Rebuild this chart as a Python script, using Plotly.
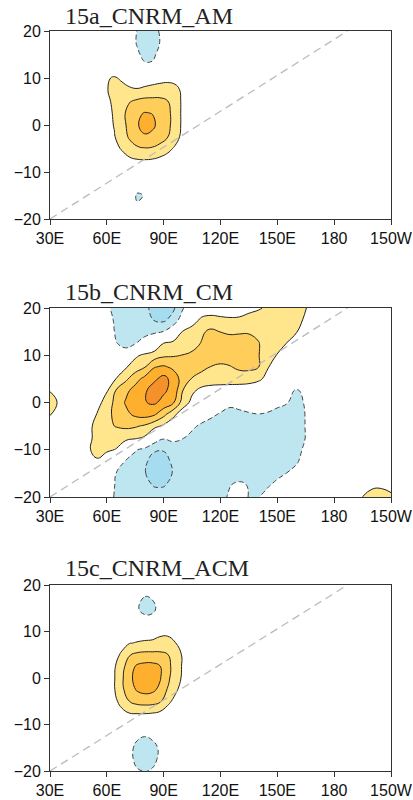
import plotly.graph_objects as go

# ---------------- data ----------------
lat = [-20, -17.5, -15, -12.5, -10, -7.5, -5, -2.5, 0, 2.5, 5, 7.5, 10, 12.5, 15, 17.5, 20]

lon_ac = [30, 50, 56, 60, 64, 68, 72, 76, 80, 84, 88, 92, 96, 100, 104, 110, 210]

lon_b = [30, 35, 40, 45, 50, 55, 60, 65, 70, 75, 80, 85, 90, 95, 100, 105, 110, 115, 120,
         125, 130, 135, 140, 145, 150, 155, 160, 165, 170, 175, 180, 185, 190, 195, 200, 205, 210]

x_ticks = [30, 60, 90, 120, 150, 180, 210]
x_tick_text = ["30E", "60E", "90E", "120E", "150E", "180", "150W"]
y_ticks = [-20, -10, 0, 10, 20]

ref_lon = [30, 187]
ref_val = [-20, 20]

titles = ["15a_CNRM_AM", "15b_CNRM_CM", "15c_CNRM_ACM"]

# rows: lat -20 ... 20 ; columns: lon_ac
z_a = [
    [0, 0, 0, 0, 0, 0, 0, 0, 0, 0, 0, 0, 0, 0, 0, 0, 0],
    [0, 0, 0, 0, 0, 0, -0.2, -0.85, -0.6, 0, 0, 0, 0, 0, 0, 0, 0],
    [0, 0, 0, 0, 0, 0, -0.3, -1.15, -0.95, -0.1, 0, 0, 0, 0, 0, 0, 0],
    [0, 0, 0, 0, 0, 0, 0, -0.4, -0.3, 0, 0, 0, 0, 0, 0, 0, 0],
    [0, 0, 0, 0, 0, 0, 0.2, 0.25, 0.25, 0.2, 0, 0, 0, 0, 0, 0, 0],
    [0, 0, 0, 0.1, 0.3, 0.55, 0.8, 0.92, 0.95, 0.9, 0.75, 0.55, 0.3, 0.1, 0, 0, 0],
    [0, 0, 0.1, 0.35, 0.7, 1.1, 1.55, 1.85, 1.95, 1.9, 1.65, 1.3, 0.85, 0.4, 0.1, 0, 0],
    [0, 0, 0.2, 0.55, 0.95, 1.5, 2.15, 2.6, 2.8, 2.75, 2.5, 2.05, 1.45, 0.7, 0.25, 0, 0],
    [0, 0, 0.3, 0.7, 1.05, 1.6, 2.35, 2.85, 3.6, 3.2, 2.7, 2.25, 1.6, 0.8, 0.3, 0.1, 0],
    [0, 0, 0.3, 0.75, 1.1, 1.7, 2.4, 2.85, 3.05, 2.98, 2.8, 2.25, 1.6, 0.8, 0.3, 0.1, 0],
    [0, 0, 0.4, 0.85, 1.15, 1.6, 1.95, 2.2, 2.35, 2.35, 2.3, 2.05, 1.6, 0.8, 0.4, 0.1, 0],
    [0, 0, 0.4, 0.95, 1.3, 1.3, 1.1, 1.05, 1.15, 1.25, 1.35, 1.4, 1.3, 0.8, 0.4, 0.1, 0],
    [0, 0, 0.3, 0.9, 1.1, 0.85, 0.7, 0.6, 0.6, 0.65, 0.7, 0.75, 0.65, 0.3, 0.1, 0, 0],
    [0, 0, 0, 0.3, 0.2, 0, -0.1, -0.3, -0.8, -0.8, -0.3, 0, 0, 0, 0, 0, 0],
    [0, 0, 0, 0, 0, 0, -0.2, -0.8, -1.3, -1.25, -0.7, -0.1, 0, 0, 0, 0, 0],
    [0, 0, 0, 0, 0, 0, -0.4, -1.1, -1.6, -1.6, -0.98, -0.3, 0, 0, 0, 0, 0],
    [0, 0, 0, 0, 0, 0, -0.3, -1.05, -1.5, -1.5, -0.9, -0.2, 0, 0, 0, 0, 0],
]

z_c = [
    [0, 0, 0, 0, 0, 0, -0.4, -0.9, -1.05, -0.9, -0.4, 0, 0, 0, 0, 0, 0],
    [0, 0, 0, 0, 0, -0.2, -0.7, -1.3, -1.55, -1.3, -0.8, -0.2, 0, 0, 0, 0, 0],
    [0, 0, 0, 0, 0, -0.2, -0.7, -1.3, -1.6, -1.35, -0.85, -0.2, 0, 0, 0, 0, 0],
    [0, 0, 0, 0, 0, 0, -0.3, -0.8, -0.97, -0.8, -0.3, 0, 0, 0, 0, 0, 0],
    [0, 0, 0, 0, 0, 0.1, 0.25, 0.3, 0.3, 0.25, 0.15, 0, 0, 0, 0, 0, 0],
    [0, 0, 0, 0.2, 0.45, 0.8, 1.02, 1.05, 1.05, 1.02, 0.85, 0.5, 0.25, 0.1, 0, 0, 0],
    [0, 0, 0.1, 0.4, 0.8, 1.3, 2.02, 2.35, 2.45, 2.4, 2.15, 1.3, 0.7, 0.3, 0.1, 0, 0],
    [0, 0, 0.2, 0.55, 0.95, 1.8, 2.6, 3.1, 3.3, 3.2, 2.8, 1.95, 1.25, 0.55, 0.2, 0, 0],
    [0, 0, 0.25, 0.6, 0.95, 1.85, 2.75, 3.4, 3.7, 3.6, 3.1, 2.2, 1.55, 0.85, 0.3, 0.1, 0],
    [0, 0, 0.25, 0.55, 0.9, 1.65, 2.6, 3.15, 3.3, 3.3, 3.05, 2.3, 1.6, 0.9, 0.35, 0.1, 0],
    [0, 0, 0.2, 0.5, 0.8, 1.1, 1.95, 2.2, 2.3, 2.3, 2.25, 2.05, 1.55, 0.9, 0.35, 0.1, 0],
    [0, 0, 0, 0.3, 0.55, 0.8, 0.97, 1.05, 1.1, 1.12, 1.25, 1.3, 1.05, 0.55, 0.2, 0, 0],
    [0, 0, 0, 0, 0.3, 0.45, 0.55, 0.6, 0.65, 0.7, 0.8, 0.8, 0.6, 0.3, 0.1, 0, 0],
    [0, 0, 0, 0, 0, 0, 0, -0.4, -0.7, -0.7, -0.3, 0, 0, 0, 0, 0, 0],
    [0, 0, 0, 0, 0, 0, -0.3, -0.9, -1.35, -1.25, -0.7, -0.2, 0, 0, 0, 0, 0],
    [0, 0, 0, 0, 0, 0, 0, -0.5, -1.02, -0.9, -0.4, 0, 0, 0, 0, 0, 0],
    [0, 0, 0, 0, 0, 0, 0, -0.2, -0.4, -0.4, -0.2, 0, 0, 0, 0, 0, 0],
]

# rows: lat -20 ... 20 ; columns: lon_b
z_b = [
    [0, 0, 0, 0, 0,  0, -0.6, -1.15, -1.35, -1.5,  -1.6, -1.7, -1.7, -1.6, -1.55,
     -1.45, -1.35, -1.25, -1.2, -0.9,  -0.5, -1.05, -1.05, -0.7, -0.4,
     -0.2, 0, 0, 0, 0,  0, 0, 0.4, 1.02, 1.2,  1.25, 1.15],
    [0, 0, 0, 0, 0,  0, -0.5, -1.1, -1.4, -1.55,  -1.8, -2.05, -2.05, -1.8, -1.6,
     -1.55, -1.5, -1.4, -1.2, -1.02,  -0.85, -1.05, -1.2, -1.08, -0.8,
     -0.5, -0.25, -0.1, 0, 0,  0, 0, 0.1, 0.5, 0.9,  0.9, 0.75],
    [0, 0, 0, 0, 0,  0.1, -0.4, -1.02, -1.4, -1.6,  -1.95, -2.4, -2.4, -1.95, -1.7,
     -1.65, -1.6, -1.55, -1.45, -1.35,  -1.35, -1.4, -1.45, -1.35, -1.2,
     -0.98, -0.6, -0.25, 0, 0,  0, 0, 0, 0, 0,  0, 0],
    [0, 0, 0, 0.2, 0.75,  0.9, 0.4, -0.4, -1.1, -1.45,  -1.85, -2.35, -2.3, -1.85, -1.6,
     -1.6, -1.6, -1.6, -1.6, -1.6,  -1.6, -1.6, -1.6, -1.6, -1.55,
     -1.45, -1.15, -0.5, -0.2, 0,  0, 0, 0, 0, 0,  0, 0],
    [0, 0, 0, 0.3, 0.9,  1.25, 1.15, 0.95, 0.1, -0.9,  -1.3, -1.9, -1.95, -1.55, -1.5,
     -1.55, -1.6, -1.6, -1.6, -1.6,  -1.6, -1.6, -1.6, -1.6, -1.6,
     -1.5, -1.3, -0.8, -0.3, -0.1,  0, 0, 0, 0, 0,  0, 0],
    [0, 0, 0, 0.2, 0.75,  1.3, 1.45, 1.4, 1.25, 1.15,  0.85, -0.3, -0.9, -0.75, -0.95,
     -1.3, -1.5, -1.55, -1.55, -1.55,  -1.55, -1.55, -1.55, -1.6, -1.6,
     -1.55, -1.45, -0.97, -0.4, -0.1,  0, 0, 0, 0, 0,  0, 0],
    [0.6, 0.3, 0.1, 0.3, 0.7,  1.35, 1.8, 2.05, 2.2, 2.1,  1.85, 1.3, 0.8, 0.3, -0.3,
     -0.8, -1.2, -1.4, -1.5, -1.5,  -1.45, -1.4, -1.45, -1.5, -1.55,
     -1.6, -1.55, -0.95, -0.4, -0.1,  0, 0, 0, 0, 0,  0, 0],
    [1.05, 0.6, 0.2, 0.3, 0.65,  1.05, 1.7, 2.3, 2.75, 3.2,  3.4, 3.15, 2.3, 1.3, 0.4,
     0, -0.4, -0.8, -1.1, -1.4,  -1.25, -1.1, -1.02, -1.1, -1.3,
     -1.4, -1.5, -0.95, -0.4, -0.1,  0, 0, 0, 0, 0,  0, 0],
    [1.3, 0.9, 0.3, 0.1, 0.2,  0.6, 1.5, 2.3, 3.1, 3.6,  3.95, 4.15, 3.7, 3.15, 1.6,
     0.7, 0.35, -0.1, -0.45, -0.7,  -0.6, -0.5, -0.45, -0.55, -0.75,
     -0.95, -1.3, -0.9, -0.4, -0.1,  0, 0, 0, 0, 0,  0, 0],
    [0.97, 0.5, 0.15, 0, 0,  -0.1, 0.9, 2.1, 2.75, 3.4,  3.85, 4.5, 4.15, 3.7, 2.02,
     1.2, 0.7, 0.5, 0.4, 0.35,  0.3, 0.25, 0.2, 0, -0.3,
     -0.7, -1.1, -0.8, -0.3, -0.1,  0, 0, 0, 0, 0,  0, 0],
    [0.4, 0.1, 0, 0, 0,  -0.05, 0.2, 1.05, 1.8, 2.6,  3.3, 3.8, 4.35, 3.6, 2.6,
     1.95, 1.7, 1.6, 1.6, 1.6,  1.6, 1.5, 1.2, 0.7, 0.35,
     0.15, 0.05, 0, 0, 0,  0, 0, 0, 0, 0,  0, 0],
    [0, 0, 0, 0, 0,  0, -0.15, -0.3, 0.9, 1.5,  1.95, 2.95, 3.15, 2.8, 2.5,
     2.35, 2.2, 1.97, 1.85, 1.95,  2.15, 2.2, 2.03, 1.05, 0.6,
     0.3, 0.1, 0, 0, 0,  0, 0, 0, 0, 0,  0, 0],
    [0, 0, 0, 0, 0,  -0.1, -0.3, -0.55, -0.75, 0.8,  1.2, 1.45, 1.8, 1.9, 2.02,
     2.15, 2.3, 2.45, 2.4, 2.4,  2.45, 2.45, 2.05, 1.45, 0.95,
     0.6, 0.3, 0.1, 0, 0,  0, 0, 0, 0, 0,  0, 0],
    [0, 0, 0, 0, 0,  -0.1, -0.4, -0.98, -1.15, -1.02,  -0.6, 0.1, 1.03, 1.3, 1.5,
     1.7, 2.05, 2.4, 2.35, 2.3,  2.4, 2.4, 2.05, 1.6, 1.3,
     0.98, 0.6, 0.3, 0.1, 0,  0, 0, 0, 0, 0,  0, 0],
    [0, 0, 0, 0, 0,  -0.2, -0.6, -1.1, -1.3, -1.35,  -1.3, -1.2, -0.97, -0.3, 1.05,
     1.45, 1.85, 2.2, 1.98, 1.9,  1.9, 1.9, 1.8, 1.65, 1.5,
     1.35, 1.05, 0.6, 0.25, 0.1,  0, 0, 0, 0, 0,  0, 0],
    [0, 0, 0, 0, 0,  -0.2, -0.7, -1.15, -1.3, -1.45,  -1.7, -2.05, -2.2, -1.6, -0.5,
     0.5, 1.2, 1.3, 1.15, 1.1,  1.1, 1.25, 1.45, 1.6, 1.65,
     1.55, 1.3, 0.85, 0.4, 0.15,  0, 0, 0, 0, 0,  0, 0],
    [0, 0, 0, 0, 0,  -0.3, -0.85, -1.3, -1.5, -1.7,  -1.85, -2.2, -2.5, -2.2, -1.1,
     -0.2, 0.3, 0.5, 0.6, 0.6,  0.7, 0.8, 0.9, 1.15, 1.3,
     1.35, 1.25, 1.03, 0.6, 0.3,  0.1, 0, 0, 0, 0,  0, 0],
]

for zz, xx in ((z_a, lon_ac), (z_b, lon_b), (z_c, lon_ac)):
    assert len(zz) == len(lat)
    for row in zz:
        assert len(row) == len(xx), (len(row), len(xx))

# ---------------- style ----------------
# Plotly shades the region that is OUTSIDE the constraint, so the
# operation is the opposite of the region we want filled.
fills = [
    (1, "<", "#FFE68C", "solid"),     # fill z > 1
    (2, "<", "#FFCD5A", "solid"),     # fill z > 2
    (3, "<", "#FDAF2D", "solid"),     # fill z > 3
    (4, "<", "#F5912A", "solid"),     # fill z > 4
    (-1, ">", "#BEE6F0", "5px,3px"),  # fill z < -1
    (-2, ">", "#A5DCF0", "5px,3px"),  # fill z < -2
]

x_dom = [50 / 413, 391 / 413]
y_doms = [
    [(800 - 219) / 800, (800 - 31) / 800],
    [(800 - 497) / 800, (800 - 308) / 800],
    [(800 - 771) / 800, (800 - 585) / 800],
]
title_y = [1 - 15.5 / 800, 1 - 292 / 800, 1 - 567.5 / 800]

panels = [(lon_ac, z_a), (lon_b, z_b), (lon_ac, z_c)]

fig = go.Figure()
tick_font = dict(family="Arial, 'Liberation Sans', sans-serif", size=16, color="#111111")

for i, (lons, zz) in enumerate(panels):
    xa = "x" if i == 0 else f"x{i + 1}"
    ya = "y" if i == 0 else f"y{i + 1}"
    for val, op, col, dash in fills:
        lc = "#222222" if val > 0 else "#444444"
        fig.add_trace(go.Contour(
            x=lons, y=lat, z=zz, xaxis=xa, yaxis=ya,
            contours=dict(type="constraint", operation=op, value=val),
            fillcolor=col,
            line=dict(color=lc, width=1, dash=dash, smoothing=1.3),
            showscale=False, hoverinfo="skip",
        ))
    fig.add_trace(go.Scatter(
        x=ref_lon, y=ref_val, xaxis=xa, yaxis=ya, mode="lines",
        line=dict(color="#BBBBBB", width=1.3, dash="8px,5px"),
        showlegend=False, hoverinfo="skip",
    ))

    axis_common = dict(showgrid=False, zeroline=False, showline=True, linecolor="#333333",
                       linewidth=1, mirror=True, ticks="outside", ticklen=5,
                       tickcolor="#333333", tickfont=tick_font, automargin=False)
    xkey = "xaxis" if i == 0 else f"xaxis{i + 1}"
    ykey = "yaxis" if i == 0 else f"yaxis{i + 1}"
    fig.update_layout(**{
        xkey: dict(domain=x_dom, range=[30, 210], tickvals=x_ticks, ticktext=x_tick_text,
                   anchor=ya, **axis_common),
        ykey: dict(domain=y_doms[i], range=[-20, 20], tickvals=y_ticks, anchor=xa,
                   **axis_common),
    })
    fig.add_annotation(
        x=63 / 413, y=title_y[i], xref="paper", yref="paper", xanchor="left", yanchor="middle",
        text=titles[i], showarrow=False,
        font=dict(family="'Times New Roman', 'Liberation Serif', serif", size=24, color="#222222"),
    )

fig.update_layout(
    width=413, height=800, margin=dict(l=0, r=0, t=0, b=0, autoexpand=False),
    paper_bgcolor="white", plot_bgcolor="white", showlegend=False,
)

fig.write_html("out.html")
